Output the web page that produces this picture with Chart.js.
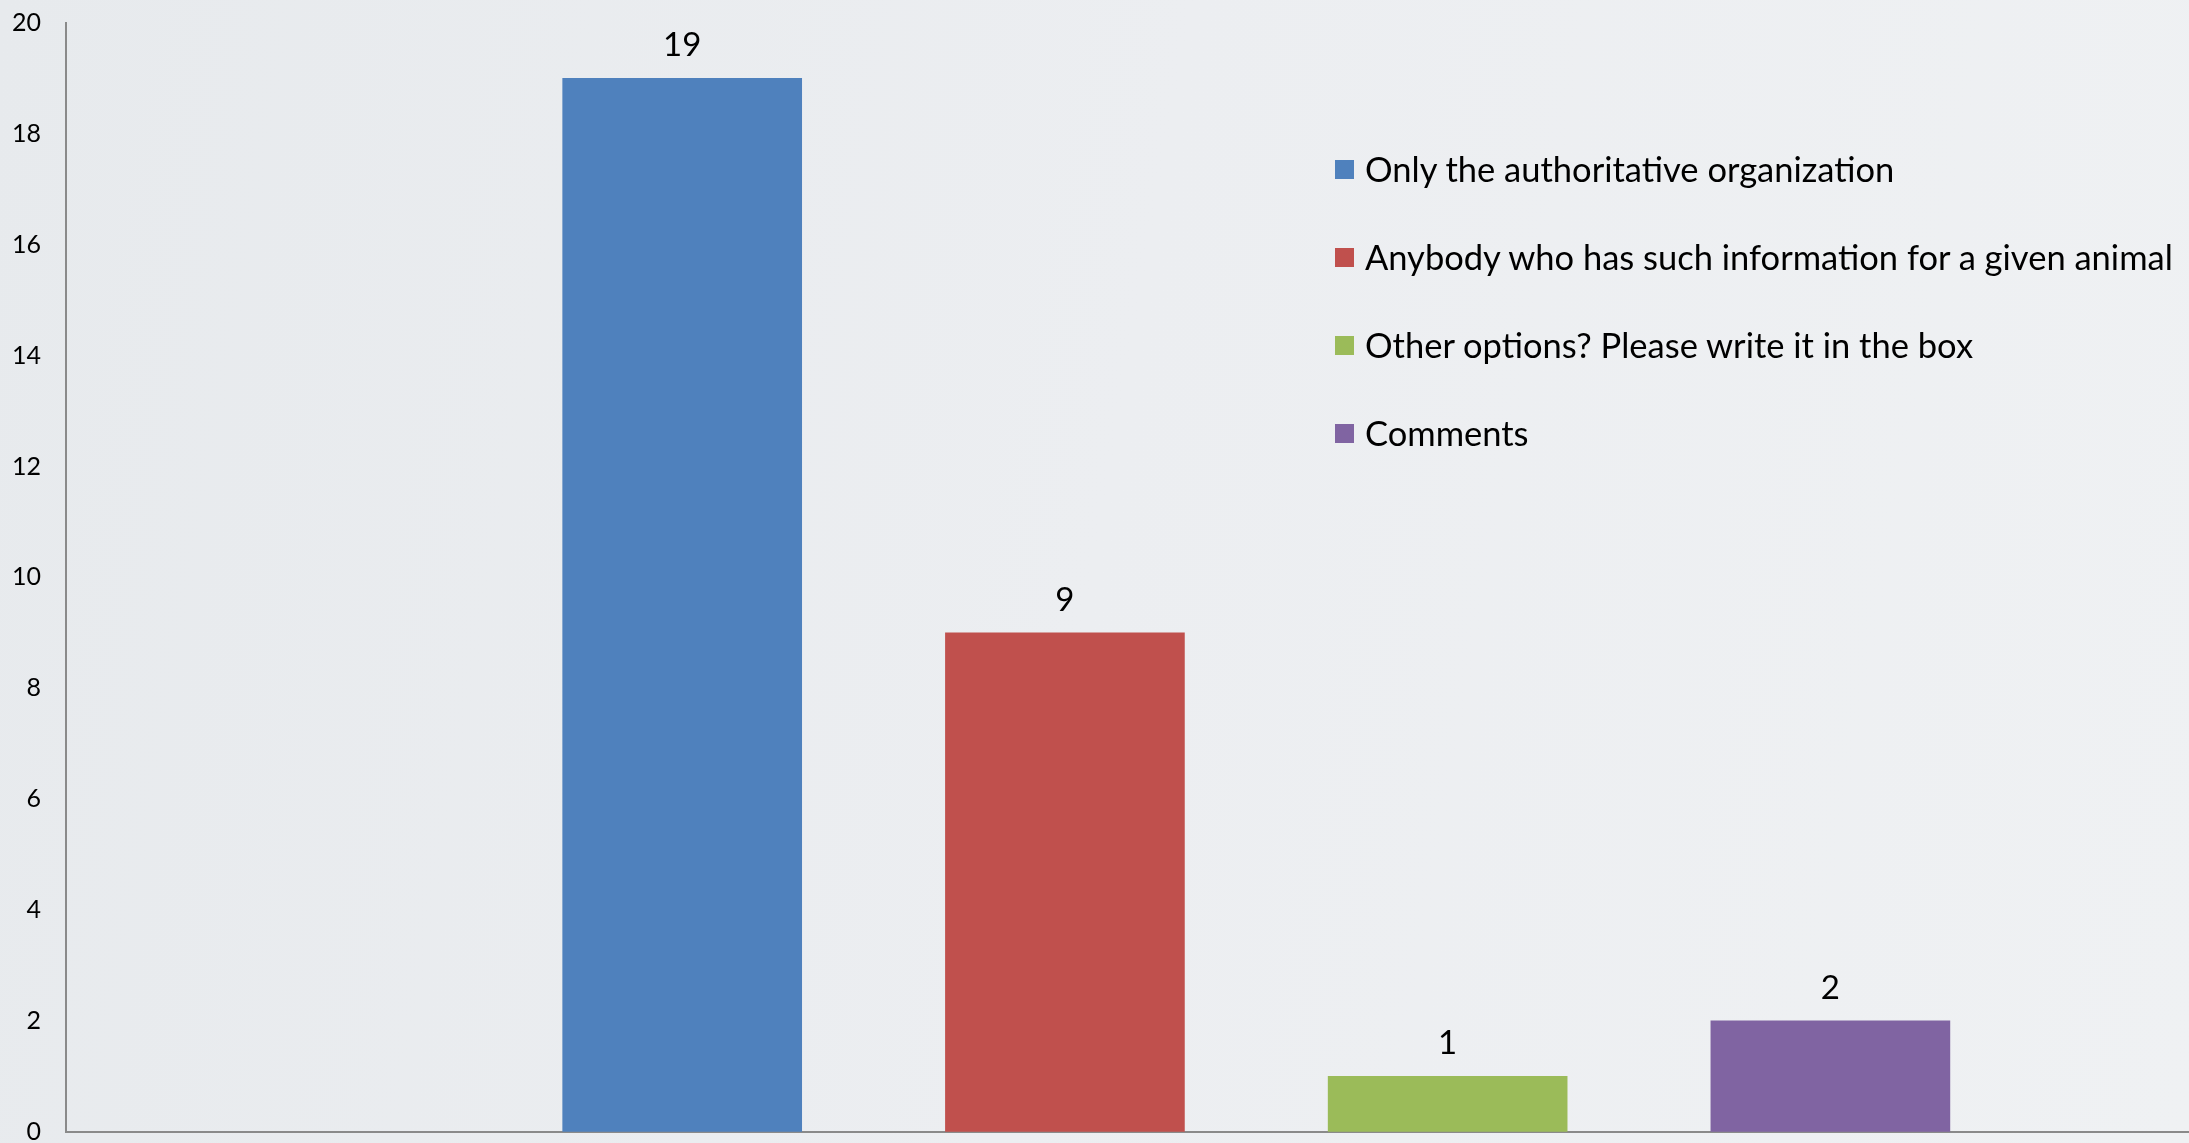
<!DOCTYPE html>
<html>
<head>
<meta charset="utf-8">
<script src="https://cdn.jsdelivr.net/npm/chart.js@4/dist/chart.umd.min.js"></script>
<style>
  html, body { margin: 0; padding: 0; }
  body {
    width: 2189px; height: 1143px; overflow: hidden; position: relative;
    background: linear-gradient(100deg, #e7eaed 0%, #eceef1 50%, #eff1f3 100%);
    font-family: Lato, "Open Sans", sans-serif;
  }
  #wrap { position: absolute; left: 0; top: 0; width: 2189px; height: 1143px; }
  #legend { position: absolute; left: 1335px; top: 147px; margin: 0; padding: 0; list-style: none; }
  #legend li { height: 88px; display: flex; align-items: flex-start; font-size: 34.5px; color: #000; white-space: nowrap; }
  #legend li span.box { width: 19px; height: 19px; margin: 13px 11px 0 0; flex: none; }
  #legend li span.txt { line-height: 44px; }
</style>
</head>
<body>
<div id="wrap"><canvas id="chart" width="2189" height="1143"></canvas></div>
<ul id="legend"></ul>
<script>
// значения с картинки
const categories = [
  "Only the authoritative organization",
  "Anybody who has such information for a given animal",
  "Other options? Please write it in the box",
  "Comments"
];
const values = [19, 9, 1, 2];
const colors = ["#4F81BD", "#C0504D", "#9BBB59", "#8064A2"];
const yTicks = [0, 2, 4, 6, 8, 10, 12, 14, 16, 18, 20];

// легенда как обычный html-список
const legend = document.getElementById("legend");
categories.forEach((name, i) => {
  const li = document.createElement("li");
  li.innerHTML = `<span class="box" style="background:${colors[i]}"></span><span class="txt">${name}</span>`;
  legend.appendChild(li);
});

// подписи над столбцами
const barLabels = {
  id: "barLabels",
  afterDatasetsDraw(chart) {
    const ctx = chart.ctx;
    const meta = chart.getDatasetMeta(0);
    ctx.save();
    ctx.font = "33px Lato, sans-serif";
    ctx.fillStyle = "#000";
    ctx.textAlign = "center";
    ctx.textBaseline = "alphabetic";
    meta.data.forEach((bar, i) => {
      ctx.fillText(String(values[i]), bar.x, bar.y - 22);
    });
    ctx.restore();
  }
};

new Chart(document.getElementById("chart"), {
  type: "bar",
  data: {
    datasets: [{
      data: values.map((v, i) => ({ x: i, y: v })),
      backgroundColor: colors,
      borderWidth: 0,
      barThickness: 239
    }]
  },
  options: {
    responsive: false,
    animation: false,
    layout: { padding: { top: 23, bottom: 11, left: 0, right: 0 } },
    plugins: { legend: { display: false }, tooltip: { enabled: false } },
    scales: {
      x: {
        type: "linear",
        offset: false,
        min: -1.61,
        max: 3.937,
        ticks: { display: false },
        grid: { display: false, drawTicks: false },
        border: { display: true, color: "#8a8a8a", width: 2 },
        afterFit(scale) { scale.height = 0; }
      },
      y: {
        min: 0,
        max: 20,
        afterBuildTicks(scale) { scale.ticks = yTicks.map(v => ({ value: v })); },
        // отступ подписей через tickLength, чтобы не раздувать верх/низ
        ticks: { color: "#000", font: { family: "Lato", size: 25, lineHeight: 0.9 }, padding: 0 },
        grid: { display: false, drawTicks: true, tickLength: 25 },
        border: { display: true, color: "#8a8a8a", width: 2 },
        afterFit(scale) { scale.width = 66; }
      }
    }
  },
  plugins: [barLabels]
});
</script>
</body>
</html>
